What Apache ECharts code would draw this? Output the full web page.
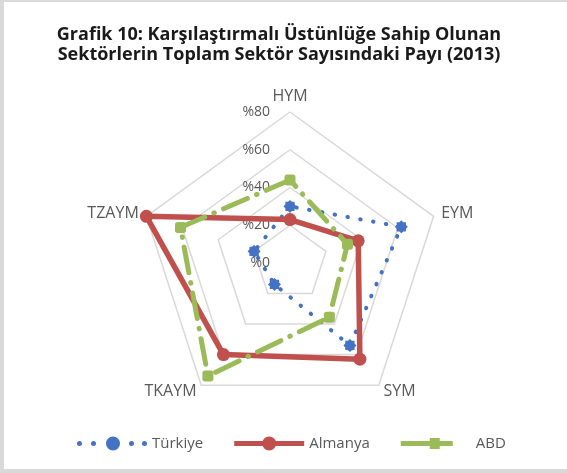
<!DOCTYPE html>
<html><head><meta charset="utf-8">
<script src="https://cdn.jsdelivr.net/npm/echarts@6/dist/echarts.min.js"></script>
<style>html,body{margin:0;padding:0;background:#fff}#c{width:567px;height:473px}</style>
</head><body><div id="c"></div>
<script>
// ---- data ----
const indicators = ['HYM', 'EYM', 'SYM', 'TKAYM', 'TZAYM'];
const axisMax = 80;
const seriesNames = ['Türkiye', 'Almanya', 'ABD'];
const turkiye = [30, 62, 54, 14, 20];
const almanya = [23, 38, 63, 60, 80];
const abd = [44, 32, 35.5, 74, 61];
const titleLines = ['Grafik 10: Karşılaştırmalı Üstünlüğe Sahip Olunan', 'Sektörlerin Toplam Sektör Sayısındaki Payı (2013)'];

// ECharts places radar axes counter-clockwise; reorder so they run clockwise
const order = [0, 4, 3, 2, 1];
const reorder = arr => order.map(i => arr[i]);

// ---- styles ----
const BLUE = '#4472C4', RED = '#C0504D', GREEN = '#9BBB59';
const FONT = 'Open Sans';
function gear(n, ro, ri) {
  let d = '';
  for (let i = 0; i < 2 * n; i++) {
    const r = i % 2 ? ri : ro, a = Math.PI * i / n;
    d += (i ? 'L' : 'M') + (10 + r * Math.cos(a)).toFixed(2) + ',' + (10 + r * Math.sin(a)).toFixed(2);
  }
  return 'path://' + d + 'Z';
}
const gearSym = gear(8, 10, 7.8);
function circ(cx, cy, r) {
  return 'M' + (cx - r) + ',' + cy + 'A' + r + ',' + r + ' 0 1,1 ' + (cx + r) + ',' + cy + 'A' + r + ',' + r + ' 0 1,1 ' + (cx - r) + ',' + cy + 'Z';
}
const iconTr = 'path://' + [2.5, 16.5, 54.5, 67.5].map(x => circ(x, 7, 2.5)).join('') + circ(36, 7, 7);
const iconDe = 'path://M0,4.5L70,4.5L70,9.5L0,9.5Z' + circ(35, 7, 7);
const iconUs = 'path://M0,4.5L52,4.5L52,9.5L0,9.5ZM29,1.5L39,1.5L39,12.5L29,12.5ZM70,0L70,14Z';

const chart = echarts.init(document.getElementById('c'));
chart.setOption({
  backgroundColor: '#fff',
  textStyle: {fontFamily: FONT},
  title: {
    text: titleLines.join('\n'),
    left: 274, top: 20, textAlign: 'center',
    textStyle: {fontFamily: FONT, fontSize: 18, fontWeight: 'bold', color: '#1a1a1a', lineHeight: 20}
  },
  graphic: [
    {type: 'rect', shape: {x: 0, y: 0, width: 567, height: 2}, style: {fill: '#d9d9d9'}, silent: true},
    {type: 'rect', shape: {x: 0, y: 0, width: 4, height: 473}, style: {fill: '#d9d9d9'}, silent: true},
    {type: 'rect', shape: {x: 0, y: 469, width: 567, height: 4}, style: {fill: '#d9d9d9'}, silent: true}
  ],
  legend: {
    left: 72, top: 431,
    itemWidth: 70, itemHeight: 14, itemGap: 31,
    textStyle: {fontFamily: FONT, fontSize: 15, color: '#595959'},
    data: [
      {name: seriesNames[0], icon: iconTr, itemStyle: {color: BLUE}},
      {name: seriesNames[1], icon: iconDe, itemStyle: {color: RED}},
      {name: seriesNames[2], icon: iconUs, itemStyle: {color: GREEN}}
    ]
  },
  radar: {
    center: [290, 263], radius: 151, startAngle: 90,
    shape: 'polygon', splitNumber: 4,
    indicator: reorder(indicators).map((n, i) => {
      const o = {name: n, min: 0, max: axisMax};
      if (i === 0) o.axisLabel = {show: true};
      return o;
    }),
    axisName: {color: '#595959', fontSize: 16, fontFamily: FONT},
    nameGap: 8,
    axisLine: {show: false},
    axisTick: {show: false},
    splitArea: {show: false},
    splitLine: {lineStyle: {color: '#D9D9D9', width: 1.5}},
    axisLabel: {show: false, margin: 20, color: '#595959', fontSize: 14, fontFamily: FONT,
      formatter: v => '%' + v}
  },
  series: [{
    type: 'radar',
    data: [
      {name: seriesNames[0], value: reorder(turkiye), symbol: gearSym, symbolSize: 13,
        lineStyle: {color: BLUE, width: 4, type: [0.5, 12.5], cap: 'round'},
        itemStyle: {color: BLUE}},
      {name: seriesNames[1], value: reorder(almanya), symbol: 'circle', symbolSize: 13,
        lineStyle: {color: RED, width: 5.5},
        itemStyle: {color: RED}},
      {name: seriesNames[2], value: reorder(abd), symbol: 'roundRect', symbolSize: 11,
        lineStyle: {color: GREEN, width: 5, type: [26, 10, 0.5, 10], cap: 'round'},
        itemStyle: {color: GREEN}}
    ]
  }]
});
</script></body></html>
